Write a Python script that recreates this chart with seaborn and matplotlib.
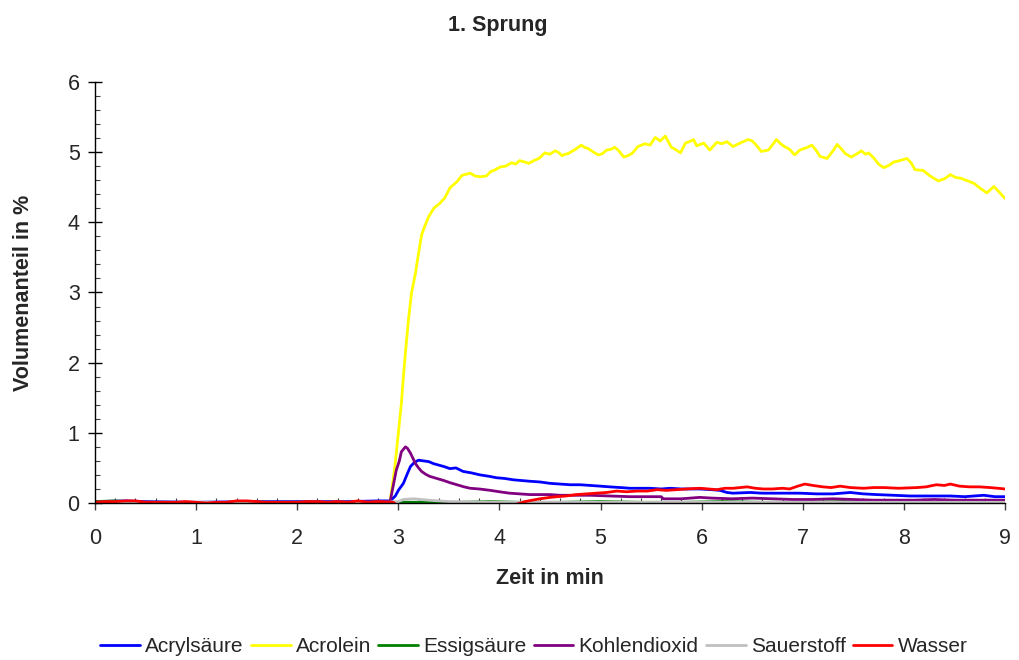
import matplotlib
matplotlib.use("Agg")
import matplotlib.pyplot as plt
from matplotlib.ticker import MultipleLocator
from matplotlib.lines import Line2D
import pandas as pd
import seaborn as sns

# ---- measured series (time in min, volume fraction in %) ----
zeit_acrylsaeure = [0.0, 0.3, 0.5, 1.0, 1.5, 2.0, 2.5, 2.8, 2.92, 2.97, 3.00, 3.05, 3.09, 3.12,
                    3.16, 3.20, 3.25, 3.30, 3.35, 3.40, 3.45, 3.51, 3.57, 3.64, 3.72, 3.81,
                    3.90, 3.97, 4.05, 4.14, 4.22, 4.30, 4.40, 4.50, 4.60, 4.70, 4.80, 4.90,
                    5.00, 5.09, 5.20, 5.29, 5.40, 5.49, 5.60, 5.69, 5.80, 5.98, 6.10, 6.18,
                    6.25, 6.31, 6.48, 6.60, 6.81, 6.97, 7.14, 7.30, 7.47, 7.60, 7.73, 7.90,
                    8.06, 8.20, 8.46, 8.60, 8.79, 8.90, 9.00]
acrylsaeure = [0.02, 0.03, 0.02, 0.01, 0.02, 0.02, 0.02, 0.03, 0.03, 0.10, 0.18, 0.28, 0.42, 0.52,
               0.58, 0.61, 0.60, 0.59, 0.56, 0.54, 0.52, 0.49, 0.50, 0.45, 0.43, 0.40,
               0.38, 0.36, 0.35, 0.33, 0.32, 0.31, 0.30, 0.28, 0.27, 0.26, 0.26, 0.25,
               0.24, 0.23, 0.22, 0.21, 0.21, 0.21, 0.20, 0.21, 0.20, 0.20, 0.19, 0.18,
               0.15, 0.14, 0.15, 0.14, 0.14, 0.14, 0.13, 0.13, 0.15, 0.13, 0.12, 0.11,
               0.10, 0.10, 0.10, 0.09, 0.11, 0.09, 0.09]

zeit_acrolein = [0.0, 1.0, 2.0, 2.9, 2.92, 2.96, 2.98, 3.00, 3.03, 3.05, 3.07, 3.10, 3.13, 3.17,
                 3.20, 3.23, 3.26, 3.30, 3.35, 3.41, 3.46, 3.51, 3.58, 3.63, 3.71, 3.76,
                 3.81, 3.87, 3.91, 3.96, 4.01, 4.06, 4.12, 4.16, 4.20, 4.25, 4.29, 4.34,
                 4.39, 4.45, 4.50, 4.55, 4.58, 4.62, 4.65, 4.68, 4.75, 4.81, 4.84, 4.88,
                 4.93, 4.98, 5.02, 5.06, 5.10, 5.14, 5.18, 5.23, 5.27, 5.31, 5.37, 5.44,
                 5.49, 5.54, 5.59, 5.64, 5.67, 5.70, 5.75, 5.79, 5.84, 5.88, 5.92, 5.95,
                 6.02, 6.08, 6.15, 6.20, 6.25, 6.31, 6.38, 6.46, 6.50, 6.54, 6.59, 6.66,
                 6.74, 6.78, 6.82, 6.87, 6.92, 6.97, 7.03, 7.09, 7.13, 7.17, 7.24, 7.30,
                 7.34, 7.38, 7.42, 7.48, 7.55, 7.58, 7.62, 7.65, 7.70, 7.75, 7.80, 7.85,
                 7.90, 7.96, 8.03, 8.07, 8.11, 8.19, 8.26, 8.34, 8.40, 8.46, 8.51, 8.56,
                 8.65, 8.70, 8.74, 8.82, 8.89, 8.95, 9.00]
acrolein = [0.00, 0.00, 0.00, 0.01, 0.04, 0.45, 0.71, 1.00, 1.42, 1.80, 2.14, 2.61, 2.99, 3.28,
            3.56, 3.82, 3.94, 4.08, 4.20, 4.27, 4.35, 4.49, 4.58, 4.67, 4.70, 4.66,
            4.65, 4.66, 4.72, 4.75, 4.79, 4.80, 4.85, 4.83, 4.88, 4.86, 4.84, 4.88,
            4.91, 4.99, 4.97, 5.02, 5.00, 4.95, 4.97, 4.98, 5.04, 5.10, 5.07, 5.05,
            5.00, 4.96, 4.98, 5.03, 5.04, 5.07, 5.02, 4.93, 4.95, 4.98, 5.08, 5.12,
            5.10, 5.21, 5.16, 5.23, 5.15, 5.07, 5.03, 4.99, 5.13, 5.15, 5.18, 5.09,
            5.13, 5.03, 5.14, 5.12, 5.15, 5.08, 5.13, 5.18, 5.16, 5.10, 5.01, 5.03,
            5.18, 5.12, 5.08, 5.04, 4.96, 5.03, 5.06, 5.10, 5.03, 4.94, 4.91, 5.02,
            5.11, 5.05, 4.98, 4.93, 4.99, 5.02, 4.97, 4.99, 4.92, 4.83, 4.78, 4.81,
            4.86, 4.88, 4.91, 4.85, 4.75, 4.74, 4.66, 4.59, 4.62, 4.68, 4.64, 4.63,
            4.58, 4.55, 4.50, 4.42, 4.51, 4.42, 4.34]

zeit_essigsaeure = [0.0, 0.2, 0.4, 0.8, 1.2, 1.6, 2.0, 2.4, 2.8, 3.0, 3.3, 3.6, 3.9, 4.2,
                    4.6, 5.0, 5.4, 5.8, 6.2, 6.6, 7.0, 7.4, 7.8, 8.2, 8.6, 9.0]
essigsaeure = [0.02, 0.03, 0.01, 0.01, 0.00, 0.01, 0.01, 0.01, 0.01, 0.01, 0.01, 0.01, 0.02, 0.01,
               0.01, 0.02, 0.01, 0.01, 0.02, 0.01, 0.01, 0.02, 0.01, 0.01, 0.01, 0.01]

zeit_kohlendioxid = [0.0, 0.5, 1.0, 2.0, 2.5, 2.9, 2.92, 2.95, 2.98, 3.01, 3.03, 3.07, 3.09, 3.12,
                     3.15, 3.17, 3.20, 3.23, 3.27, 3.31, 3.38, 3.45, 3.51, 3.58, 3.65, 3.71,
                     3.80, 3.91, 4.00, 4.10, 4.20, 4.30, 4.40, 4.50, 4.60, 4.70, 4.90, 5.09,
                     5.29, 5.49, 5.60, 5.62, 5.80, 5.98, 6.10, 6.30, 6.50, 6.70, 6.90, 7.10,
                     7.30, 7.50, 7.70, 7.90, 8.10, 8.30, 8.50, 8.70, 9.00]
kohlendioxid = [0.01, 0.01, 0.00, 0.01, 0.01, 0.02, 0.03, 0.25, 0.47, 0.60, 0.73, 0.80, 0.78, 0.71,
                0.62, 0.56, 0.50, 0.45, 0.41, 0.38, 0.35, 0.32, 0.29, 0.26, 0.23, 0.21,
                0.20, 0.18, 0.16, 0.14, 0.13, 0.12, 0.12, 0.12, 0.11, 0.11, 0.11, 0.10,
                0.09, 0.09, 0.09, 0.06, 0.06, 0.08, 0.07, 0.06, 0.07, 0.06, 0.05, 0.05,
                0.06, 0.05, 0.04, 0.04, 0.04, 0.05, 0.04, 0.04, 0.04]

zeit_sauerstoff = [0.0, 0.5, 1.0, 1.5, 2.0, 2.5, 2.9, 3.0, 3.05, 3.15, 3.3, 3.5, 4.0, 4.5,
                   5.0, 5.5, 6.0, 6.5, 7.0, 7.5, 8.0, 8.5, 9.0]
sauerstoff = [0.01, 0.01, 0.01, 0.01, 0.01, 0.01, 0.01, 0.02, 0.05, 0.06, 0.04, 0.02, 0.01, 0.01,
              0.01, 0.01, 0.01, 0.01, 0.01, 0.01, 0.01, 0.01, 0.01]

zeit_wasser = [0.0, 0.1, 0.2, 0.3, 0.4, 0.5, 0.6, 0.7, 0.8, 0.9, 1.0, 1.1, 1.2, 1.3, 1.4, 1.5,
               1.6, 1.7, 1.8, 1.9, 2.0, 2.1, 2.2, 2.3, 2.4, 2.5, 2.6, 2.7, 2.8, 2.9, 2.95,
               3.0, 3.5, 4.10, 4.25, 4.40, 4.50, 4.57, 4.66, 4.76, 4.86, 4.96, 5.06, 5.16,
               5.26, 5.36, 5.46, 5.56, 5.65, 5.75, 5.85, 5.98, 6.07, 6.15, 6.23, 6.31, 6.45,
               6.53, 6.61, 6.70, 6.80, 6.87, 6.95, 7.02, 7.10, 7.20, 7.28, 7.37, 7.47, 7.60,
               7.70, 7.80, 7.95, 8.13, 8.22, 8.32, 8.40, 8.46, 8.55, 8.65, 8.75, 8.85, 8.93,
               9.00]
wasser = [0.01, 0.02, 0.02, 0.03, 0.03, 0.01, 0.01, 0.01, 0.01, 0.02, 0.01, 0.00, 0.01, 0.01,
          0.03, 0.03, 0.02, 0.01, 0.01, 0.01, 0.01, 0.02, 0.02, 0.01, 0.02, 0.01, 0.03, 0.01,
          0.02, 0.01, 0.01, -0.05, -0.05, -0.05, 0.02, 0.06, 0.08, 0.09, 0.10, 0.12, 0.13,
          0.14, 0.15, 0.17, 0.16, 0.17, 0.17, 0.19, 0.18, 0.19, 0.20, 0.21, 0.20, 0.19,
          0.21, 0.21, 0.23, 0.21, 0.20, 0.20, 0.21, 0.20, 0.24, 0.27, 0.25, 0.23, 0.22,
          0.24, 0.22, 0.21, 0.22, 0.22, 0.21, 0.22, 0.23, 0.26, 0.25, 0.27, 0.24, 0.23,
          0.23, 0.22, 0.21, 0.20]

stoffe = ["Acrylsäure", "Acrolein", "Essigsäure", "Kohlendioxid", "Sauerstoff", "Wasser"]
farben = ["#0000FF", "#FFFF00", "#008000", "#800080", "#C0C0C0", "#FF0000"]

reihen = [(zeit_acrylsaeure, acrylsaeure), (zeit_acrolein, acrolein),
          (zeit_essigsaeure, essigsaeure), (zeit_kohlendioxid, kohlendioxid),
          (zeit_sauerstoff, sauerstoff), (zeit_wasser, wasser)]

frames = []
for name, (t, v) in zip(stoffe, reihen):
    frames.append(pd.DataFrame({"Zeit": t, "Anteil": v, "Stoff": name}))
df = pd.concat(frames, ignore_index=True)

sns.set_theme(style="white")
plt.rcParams["font.family"] = ["Liberation Sans", "DejaVu Sans"]

fig = plt.figure(figsize=(10.19, 6.60), dpi=100)
ax = fig.add_axes([95 / 1019, 1 - 503 / 660, 910 / 1019, 421 / 660])

sns.lineplot(data=df, x="Zeit", y="Anteil", hue="Stoff", hue_order=stoffe,
             palette=dict(zip(stoffe, farben)), estimator=None, sort=False,
             linewidth=2.0, legend=False, ax=ax)

ax.set_xlim(0, 9)
ax.set_ylim(0, 6)
ax.xaxis.set_major_locator(MultipleLocator(1))
ax.xaxis.set_minor_locator(MultipleLocator(0.2))
ax.yaxis.set_major_locator(MultipleLocator(1))
ax.yaxis.set_minor_locator(MultipleLocator(0.2))

for s in ("top", "right"):
    ax.spines[s].set_visible(False)
for s in ("left", "bottom"):
    ax.spines[s].set_color("black")
    ax.spines[s].set_linewidth(1.0)

ax.tick_params(axis="x", which="major", direction="out", length=5, width=1,
               color="#404040", labelsize=15.5, pad=13, bottom=True)
ax.tick_params(axis="x", which="minor", direction="in", length=3.5, width=0.8,
               color="#404040", bottom=True)
ax.tick_params(axis="y", which="major", direction="inout", length=10, width=1,
               color="black", labelsize=15.5, pad=6, left=True)
ax.tick_params(axis="y", which="minor", direction="in", length=3.5, width=0.8,
               color="#404040", left=True)

ax.set_xlabel("Zeit in min", fontsize=15.5, fontweight="bold", labelpad=14)
ax.set_ylabel("Volumenanteil in %", fontsize=15.5, fontweight="bold", labelpad=24)
fig.text(498 / 1019, 1 - 26 / 660, "1. Sprung", fontsize=15.5, fontweight="bold",
         ha="center", va="center")

handles = [Line2D([], [], color=c, linewidth=2.0) for c in farben]
fig.legend(handles, stoffe, loc="center", bbox_to_anchor=(534 / 1019, 1 - 647 / 660),
           ncol=6, frameon=False, fontsize=15, handlelength=1.9, handletextpad=0.25,
           columnspacing=0.35)

fig.savefig("out.png", dpi=100)
